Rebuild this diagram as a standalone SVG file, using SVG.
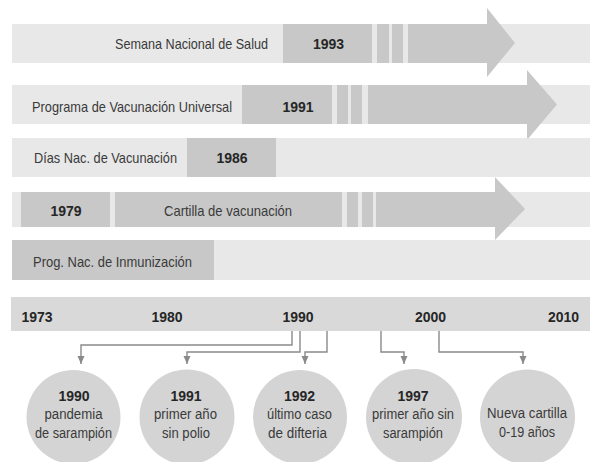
<svg xmlns="http://www.w3.org/2000/svg" width="590" height="462" viewBox="0 0 590 462">
<defs>
<style>
.bg{fill:#e8e8e8}
.dk{fill:#c8c8c8}
.tl{fill:#d9d9d9}
.cir{fill:#d4d4d4}
.t{font-family:"Liberation Sans",Arial,sans-serif;font-size:15px;fill:#3a3a3a}
.ct{font-family:"Liberation Sans",Arial,sans-serif;font-size:14px;fill:#3a3a3a;text-anchor:middle}
.y{font-family:"Liberation Sans",Arial,sans-serif;font-size:14px;font-weight:bold;fill:#262626;text-anchor:middle}
.con{fill:none;stroke:#8a8a8a;stroke-width:1.4}
</style>
<marker id="ah" markerUnits="userSpaceOnUse" markerWidth="8" markerHeight="8" viewBox="0 0 8 8" refX="4" refY="8" orient="0">
<polygon points="0.5,0 7.5,0 4,8" fill="#8a8a8a"/>
</marker>
</defs>
<rect width="590" height="462" fill="#ffffff"/>

<g id="semana-nacional">
<rect class="bg" x="12" y="24" width="578" height="39"/>
<rect class="dk" x="283" y="24" width="89" height="39"/>
<rect class="dk" x="377" y="24" width="12" height="39"/>
<rect class="dk" x="392" y="24" width="11" height="39"/>
<polygon class="dk" points="408,24 487,24 487,8 515,43 487,77 487,63 408,63"/>
<text class="t" x="115" y="48.5" textLength="153" lengthAdjust="spacingAndGlyphs">Semana Nacional de Salud</text>
<text class="y" x="328.5" y="48.5">1993</text>
</g>

<g id="programa-vacunacion">
<rect class="bg" x="12" y="85" width="578" height="39"/>
<rect class="dk" x="242" y="85" width="90" height="39"/>
<rect class="dk" x="337" y="85" width="11" height="39"/>
<rect class="dk" x="351" y="85" width="11" height="39"/>
<polygon class="dk" points="368,85 527,85 527,70 557,104.5 527,140 527,124 368,124"/>
<text class="t" x="32" y="111.5" textLength="200" lengthAdjust="spacingAndGlyphs">Programa de Vacunación Universal</text>
<text class="y" x="298" y="111.5">1991</text>
</g>

<g id="dias-nacionales">
<rect class="bg" x="12" y="138" width="578" height="39"/>
<rect class="dk" x="187" y="138" width="89" height="39"/>
<text class="t" x="34" y="163" textLength="143" lengthAdjust="spacingAndGlyphs">Días Nac. de Vacunación</text>
<text class="y" x="232" y="163">1986</text>
</g>

<g id="cartilla">
<rect class="bg" x="12" y="192" width="578" height="35"/>
<rect class="dk" x="21" y="192" width="89" height="35"/>
<rect class="dk" x="115" y="192" width="227" height="35"/>
<rect class="dk" x="347" y="192" width="11" height="35"/>
<rect class="dk" x="362" y="192" width="11" height="35"/>
<polygon class="dk" points="376,192 495,192 495,177 525,209 495,240 495,227 376,227"/>
<text class="y" x="66" y="215.5">1979</text>
<text class="t" x="164" y="215.5" textLength="128" lengthAdjust="spacingAndGlyphs">Cartilla de vacunación</text>
</g>

<g id="prog-nac-inmunizacion">
<rect class="bg" x="12" y="240" width="578" height="40"/>
<rect class="dk" x="12" y="240" width="202" height="40"/>
<text class="t" x="33" y="267" textLength="159" lengthAdjust="spacingAndGlyphs">Prog. Nac. de Inmunización</text>
</g>

<g id="timeline">
<rect class="tl" x="11" y="297" width="579" height="34"/>
<text class="y" x="37" y="321.5">1973</text>
<text class="y" x="167" y="321.5">1980</text>
<text class="y" x="298" y="321.5">1990</text>
<text class="y" x="430.5" y="321.5">2000</text>
<text class="y" x="563.5" y="321.5">2010</text>
</g>

<g id="connectors">
<path class="con" d="M292,331 V345 H81 V364" marker-end="url(#ah)"/>
<path class="con" d="M300,331 V352 H187 V364" marker-end="url(#ah)"/>
<path class="con" d="M327,331 V352 H305 V364" marker-end="url(#ah)"/>
<path class="con" d="M381,331 V352 H404 V364" marker-end="url(#ah)"/>
<path class="con" d="M439,331 V352 H523 V364" marker-end="url(#ah)"/>
</g>

<g id="e1990">
<circle class="cir" cx="73.5" cy="417" r="47"/>
<text class="y" x="74" y="400.5">1990</text>
<text class="ct" x="73.5" y="419" textLength="58" lengthAdjust="spacingAndGlyphs">pandemia</text>
<text class="ct" x="73.5" y="438" textLength="77" lengthAdjust="spacingAndGlyphs">de sarampión</text>
</g>

<g id="e1991">
<circle class="cir" cx="187" cy="417" r="47.5"/>
<text class="y" x="186" y="400.5">1991</text>
<text class="ct" x="185.5" y="419" textLength="63" lengthAdjust="spacingAndGlyphs">primer año</text>
<text class="ct" x="186" y="438" textLength="48" lengthAdjust="spacingAndGlyphs">sin polio</text>
</g>

<g id="e1992">
<circle class="cir" cx="300" cy="417" r="47"/>
<text class="y" x="299.5" y="400.5">1992</text>
<text class="ct" x="299.5" y="419" textLength="65" lengthAdjust="spacingAndGlyphs">último caso</text>
<text class="ct" x="297.5" y="438" textLength="59" lengthAdjust="spacingAndGlyphs">de difteria</text>
</g>

<g id="e1997">
<circle class="cir" cx="414" cy="417" r="48"/>
<text class="y" x="413" y="400.5">1997</text>
<text class="ct" x="413" y="419" textLength="82" lengthAdjust="spacingAndGlyphs">primer año sin</text>
<text class="ct" x="413" y="438" textLength="60" lengthAdjust="spacingAndGlyphs">sarampión</text>
</g>

<g id="nueva-cartilla">
<circle class="cir" cx="527.5" cy="417" r="47.5"/>
<text class="ct" x="527" y="418" textLength="80" lengthAdjust="spacingAndGlyphs">Nueva cartilla</text>
<text class="ct" x="527" y="437" textLength="56" lengthAdjust="spacingAndGlyphs">0-19 años</text>
</g>
</svg>
